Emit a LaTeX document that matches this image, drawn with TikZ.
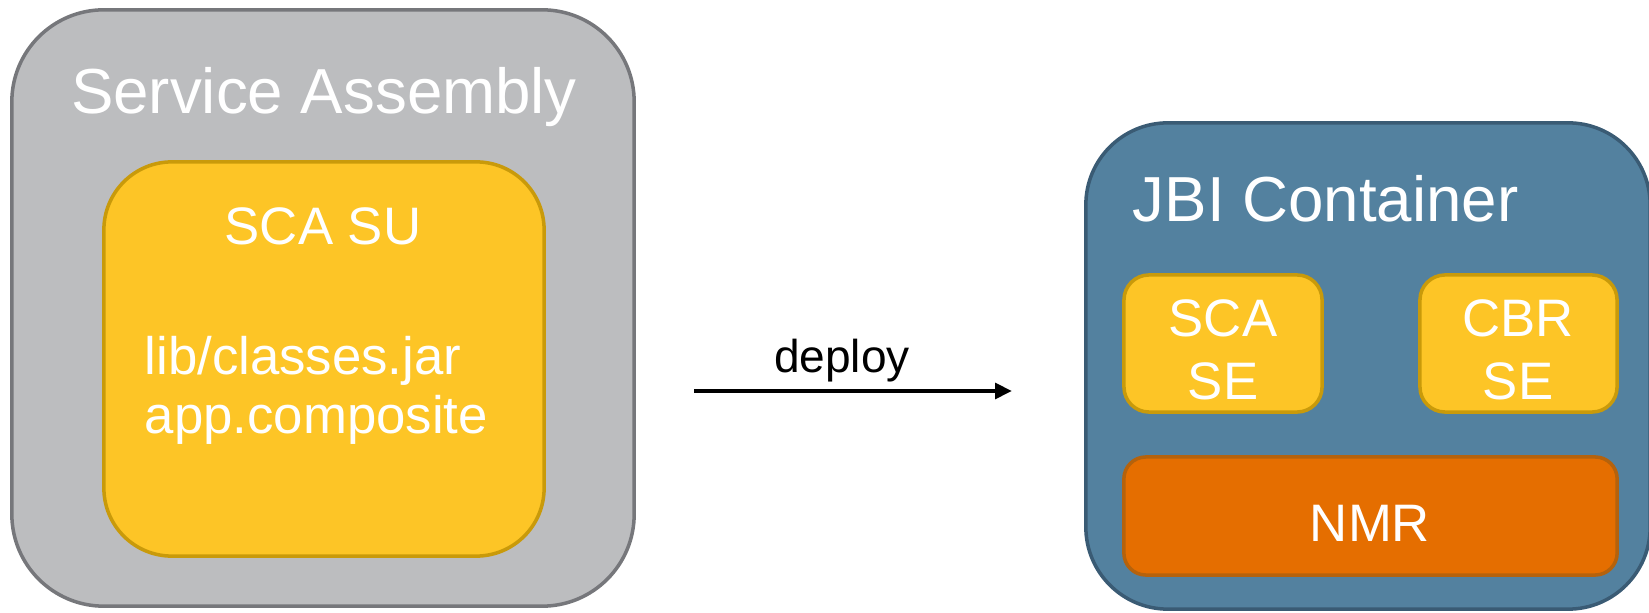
\documentclass[tikz,border=0pt]{standalone}
\usepackage{fontspec}
\setmainfont{Liberation Sans}
\usepackage{xcolor}
\usepackage{tikz}
\usetikzlibrary{arrows.meta,positioning}

\definecolor{safill}{HTML}{BCBDBF}
\definecolor{saedge}{HTML}{76777B}
\definecolor{sufill}{HTML}{FDC526}
\definecolor{suedge}{HTML}{C99A0A}
\definecolor{jbifill}{HTML}{53819F}
\definecolor{jbiedge}{HTML}{3A5B74}
\definecolor{nmrfill}{HTML}{E56E00}
\definecolor{nmredge}{HTML}{B5620C}

\begin{document}
\begin{tikzpicture}[x=0.01cm,y=-0.01cm,
  box/.style={draw,line width=1pt,inner sep=0pt},
  big/.style={font=\fontsize{18.1}{21}\selectfont,text=white,inner sep=0pt,anchor=base},
  mid/.style={font=\fontsize{15}{18}\selectfont,text=white,inner sep=0pt,anchor=base}]
 \useasboundingbox (0,0) rectangle (1649,613);
 % left side: assembly with its service unit
 \node[box,fill=safill,draw=saedge,rounded corners=0.92cm,minimum width=6.22cm,minimum height=5.96cm] (sa) at (323,308) {};
 \node[box,fill=sufill,draw=suedge,rounded corners=0.68cm,minimum width=4.40cm,minimum height=3.94cm] (su) at (324,359) {};
 \node[big] (saT) at (324,114) {Service Assembly};
 \node[mid] (suT) at (323,245) {SCA SU};
 \node[mid,anchor=base west] (lib) at (144,375) {lib/classes.jar};
 \node[mid,anchor=base west] (app) at (144,434) {app.composite};
 % right side: the container
 \node[box,fill=jbifill,draw=jbiedge,rounded corners=0.82cm,minimum width=5.64cm,minimum height=4.86cm] (jbi) at (1368,366) {};
 \node[big,anchor=base west] (jbiT) at (1132,222) {JBI Container};
 \node[box,fill=sufill,draw=suedge,rounded corners=0.25cm,minimum width=1.98cm,minimum height=1.37cm] (scase) at (1223,343.5) {};
 \node[box,fill=sufill,draw=suedge,rounded corners=0.25cm,minimum width=1.97cm,minimum height=1.37cm] (cbrse) at (1518.5,343.5) {};
 \node[box,fill=nmrfill,draw=nmredge,rounded corners=0.22cm,minimum width=4.93cm,minimum height=1.18cm] (nmr) at (1370.5,516) {};
 \node[mid] (scaA) at (1223,337) {SCA};
 \node[mid] (scaB) at (1223,400) {SE};
 \node[mid] (cbrA) at (1518,337) {CBR};
 \node[mid] (cbrB) at (1518,400) {SE};
 \node[mid] (nmrT) at (1370,542) {NMR};
 % deploy arrow
 \coordinate (d0) at (694,391);
 \coordinate (d1) at (1012,391);
 \draw[line width=1.1pt,-{Triangle[length=4.8pt,width=4.4pt]}] (d0) -- (d1);
 \node[font=\fontsize{13.1}{15}\selectfont,inner sep=0pt,anchor=base] (dep) at (842,373) {deploy};
\end{tikzpicture}
\end{document}
